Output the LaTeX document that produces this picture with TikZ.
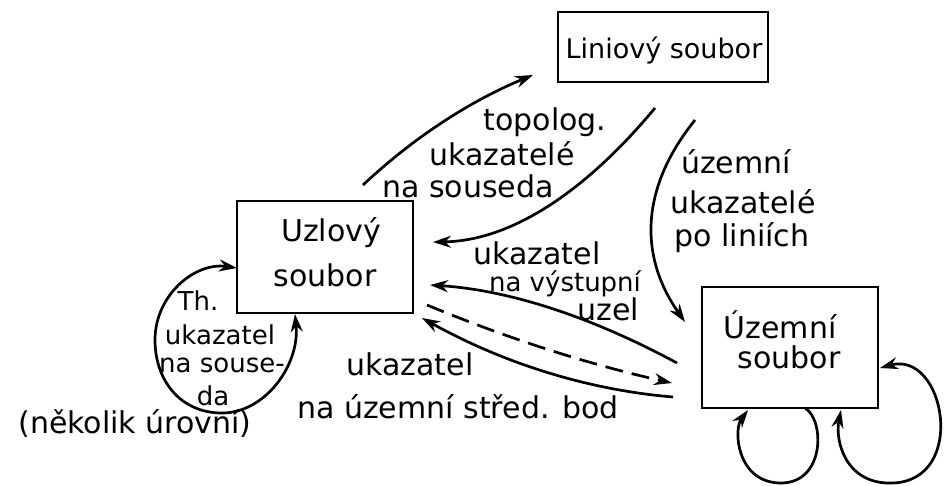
\documentclass[tikz,border=0pt]{standalone}
\usepackage{fontspec}
\setmainfont{DejaVu Sans}
\usetikzlibrary{arrows.meta}
\begin{document}
\begin{tikzpicture}[x=1pt,y=-1pt,
  box/.style={draw, line width=2.4pt, inner sep=0pt, align=center},
  lbl/.style={inner sep=0pt, anchor=base, font=\fontsize{30}{32}\selectfont},
  sml/.style={lbl, font=\fontsize{26}{28}\selectfont},
  tip/.tip={Stealth[length=18pt,width=12pt]},
  conn/.style={line width=2.7pt, -tip},
  conn2/.style={line width=2.7pt, tip-tip},
]
\fill[white] (0,0) rectangle (945,485);
\useasboundingbox (0,0) rectangle (945,485);

% boxes
\node[box, minimum width=210pt, minimum height=70pt] (lin) at (663,47) {};
\node[box, minimum width=176pt, minimum height=112pt] (uz) at (325,257) {};
\node[box, minimum width=176pt, minimum height=121pt] (uzem) at (790,347.5) {};
\node[lbl, font=\fontsize{27}{30}\selectfont] (linT) at (664,58) {Liniový soubor};
\node[lbl] (uzT1) at (331,241) {Uzlový};
\node[lbl] (uzT2) at (325,286) {soubor};
\node[lbl] (ueT1) at (780,338) {Územní};
\node[lbl] (ueT2) at (789,368) {soubor};

% labels
\node[lbl] (t1) at (545,130) {topolog.};
\node[lbl] (t2) at (502,165) {ukazatelé};
\node[lbl] (t3) at (468,197) {na souseda};
\node[lbl] (u1) at (736,173) {územní};
\node[lbl] (u2) at (743,213) {ukazatelé};
\node[lbl] (u3) at (742,246) {po liniích};
\node[lbl] (v1) at (537,264) {ukazatel};
\node[sml] (v2) at (565,291) {na výstupní};
\node[lbl] (v3) at (608,320) {uzel};
\node[lbl] (s1) at (410,375) {ukazatel};
\node[lbl] (s2) at (458,418) {na územní střed. bod};
\node[sml] (h1) at (198,310) {Th.};
\node[sml] (h2) at (220,344) {ukazatel};
\node[sml] (h3) at (222,372) {na souse-};
\node[sml] (h4) at (213,405) {da};
\node[lbl] (n1) at (135,433) {(několik úrovní)};

% connector end points
\coordinate (a0) at (363,185); \coordinate (a1) at (533,75);
\coordinate (b0) at (655,108); \coordinate (b1) at (433,242);
\coordinate (c0) at (695,120); \coordinate (c1) at (685,322);
\coordinate (d0) at (677,363); \coordinate (d1) at (430,285);
\coordinate (e0) at (427,305); \coordinate (e1) at (672,383);
\coordinate (f0) at (673,397); \coordinate (f1) at (422,318);
\coordinate (l0) at (295,314); \coordinate (l1) at (237,268);
\coordinate (m0) at (805,408); \coordinate (m1) at (748,410);
\coordinate (k0) at (880,368); \coordinate (k1) at (841,410);

\draw[conn] (a0) .. controls (413,138) and (470,101) .. (a1);
\draw[conn] (b0) .. controls (581,197) and (507,241) .. (b1);
\draw[conn] (c0) .. controls (641,187) and (638,255) .. (c1);
\draw[conn] (d0) .. controls (590,316) and (508,290) .. (d1);
\draw[conn, dash pattern=on 18pt off 9pt] (e0) .. controls (509,339) and (591,365) .. (e1);
\draw[conn] (f0) .. controls (589,390) and (505,364) .. (f1);

% self loops
\draw[conn2] (l0) .. controls (300,365) and (265,413) .. (222,413)
  .. controls (180,413) and (155,380) .. (155,340)
  .. controls (155,295) and (195,262) .. (l1);
\draw[conn] (m0) .. controls (825,420) and (825,483) .. (781,483)
  .. controls (737,483) and (733,430) .. (m1);
\draw[conn2] (k0) .. controls (945,350) and (968,480) .. (893,483)
  .. controls (845,485) and (835,440) .. (k1);
\end{tikzpicture}
\end{document}
